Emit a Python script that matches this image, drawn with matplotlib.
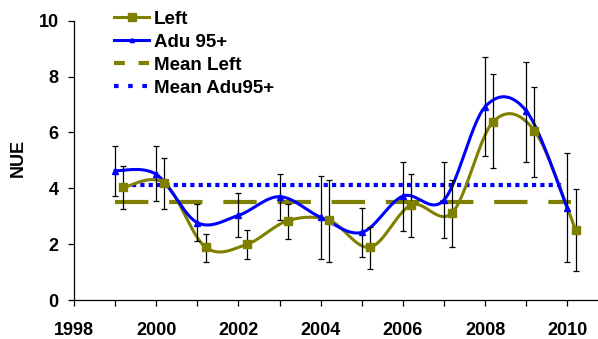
import numpy as np
import matplotlib
matplotlib.use("Agg")
import matplotlib.pyplot as plt
from matplotlib.lines import Line2D

# Data
years = [1999, 2000, 2001, 2002, 2003, 2004, 2005, 2006, 2007, 2008, 2009, 2010]
left = [4.03, 4.18, 1.89, 1.99, 2.84, 2.86, 1.89, 3.40, 3.13, 6.39, 6.06, 2.51]
left_hi = [4.80, 5.07, 2.37, 2.51, 3.44, 4.30, 2.63, 4.50, 4.30, 8.08, 7.64, 3.97]
left_lo = [3.25, 3.26, 1.35, 1.46, 2.18, 1.35, 1.10, 2.24, 1.89, 4.74, 4.42, 1.05]
adu = [4.63, 4.50, 2.77, 3.03, 3.70, 2.96, 2.42, 3.72, 3.58, 6.92, 6.77, 3.28]
adu_hi = [5.52, 5.51, 3.44, 3.84, 4.50, 4.45, 3.31, 4.95, 4.95, 8.69, 8.52, 5.25]
adu_lo = [3.72, 3.56, 2.11, 2.27, 2.86, 1.46, 1.53, 2.47, 2.21, 5.17, 4.95, 1.36]
mean_left = 3.50
mean_adu = 4.11

olive = "#808000"
blue = "#0000FF"


def smooth(x, y, n=30):
    # Bezier smoothing through the points, like a spreadsheet "smoothed line"
    p = np.column_stack([x, y]).astype(float)
    ext = np.vstack([p[0], p, p[-1]])
    out = []
    t = np.linspace(0, 1, n)[:, None]
    for i in range(len(p) - 1):
        p0, p1, p2, p3 = ext[i], ext[i + 1], ext[i + 2], ext[i + 3]
        b1 = p1 + (p2 - p0) / 6
        b2 = p2 - (p3 - p1) / 6
        seg = ((1 - t) ** 3) * p1 + 3 * ((1 - t) ** 2) * t * b1 + 3 * (1 - t) * t ** 2 * b2 + t ** 3 * p2
        out.append(seg if i == 0 else seg[1:])
    out = np.vstack(out)
    return out[:, 0], out[:, 1]


plt.rcParams["font.family"] = "Liberation Sans"
plt.rcParams["font.weight"] = "bold"

fig = plt.figure(figsize=(5.98, 3.39), dpi=100)
ax = fig.add_axes([0.1237, 0.115, 0.8746, 0.824])

x_adu = np.array(years, dtype=float)
x_left = x_adu + 0.2

sx, sy = smooth(x_left, left)
ax.plot(sx, sy, color=olive, lw=2.2, zorder=2)
sx, sy = smooth(x_adu, adu)
ax.plot(sx, sy, color=blue, lw=2.2, zorder=3)

ax.plot([1999, 2010.1], [mean_left, mean_left], color=olive, lw=3,
        dashes=(8, 5), zorder=1)
ax.plot([1999.4, 2009.9], [mean_adu, mean_adu], color=blue, lw=3,
        dashes=(1.0, 1.0), zorder=1)

ax.errorbar(x_adu, adu,
            yerr=[np.array(adu) - np.array(adu_lo), np.array(adu_hi) - np.array(adu)],
            fmt="none", ecolor="black", elinewidth=0.9, capsize=2.5, capthick=0.9, zorder=4)
ax.errorbar(x_left, left,
            yerr=[np.array(left) - np.array(left_lo), np.array(left_hi) - np.array(left)],
            fmt="none", ecolor="black", elinewidth=0.9, capsize=2.5, capthick=0.9, zorder=4)

ax.plot(x_left, left, ls="none", marker="s", ms=6, color=olive, zorder=5)
ax.plot(x_adu, adu, ls="none", marker="^", ms=4, color=blue, zorder=5)

ax.set_xlim(1998, 2010.72)
ax.set_ylim(0, 10)
ax.set_xticks(range(1998, 2011, 2))
ax.set_xticks(range(1998, 2011), minor=True)
ax.set_yticks(range(0, 11, 2))
ax.tick_params(axis="both", labelsize=13, length=4, width=0.9, direction="out")
ax.tick_params(axis="x", which="major", pad=12)
ax.tick_params(axis="y", pad=7)
ax.tick_params(axis="x", which="minor", length=4, width=0.9)
for lab in ax.get_xticklabels() + ax.get_yticklabels():
    lab.set_fontweight("bold")
ax.spines["top"].set_visible(False)
ax.spines["right"].set_visible(False)
ax.spines["left"].set_linewidth(0.9)
ax.spines["bottom"].set_linewidth(0.9)
ax.set_ylabel("NUE", fontsize=13, fontweight="bold")
ax.yaxis.set_label_coords(-0.09, 0.51)

handles = [
    Line2D([], [], color=olive, lw=2.2, marker="s", ms=6),
    Line2D([], [], color=blue, lw=2.2, marker="^", ms=3),
    Line2D([], [], color=olive, lw=3, dashes=(2.6, 3.3)),
    Line2D([], [], color=blue, lw=3, dashes=(1.1, 2.3)),
]
labels = ["Left", "Adu 95+", "Mean Left", "Mean Adu95+"]
fig.legend(handles, labels, loc="upper left", bbox_to_anchor=(0.1906, 0.968),
           frameon=False, fontsize=13.5, handlelength=1.87, handletextpad=0.27,
           labelspacing=0.31, borderpad=0, borderaxespad=0)

fig.savefig("out.png", dpi=100)
